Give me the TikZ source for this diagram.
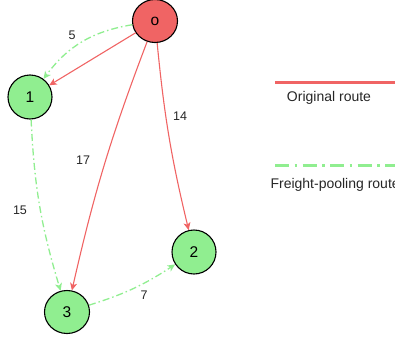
\documentclass[tikz,border=0pt]{standalone}
\usepackage{fontspec}
\setmainfont{Liberation Sans}
\usetikzlibrary{arrows.meta,shapes.geometric}
\definecolor{redroute}{HTML}{F06464}
\definecolor{greenroute}{HTML}{90EE90}
\begin{document}
\begin{tikzpicture}[x=1pt,y=1pt,
  vert/.style={circle,draw=black,line width=1.1pt,minimum size=44pt,inner sep=0pt,font=\fontsize{15.5}{15.5}\selectfont},
  orig/.style={draw=redroute,line width=1.1pt,-{Stealth[length=7.5pt,width=7pt,inset=2pt]}},
  pool/.style={draw=greenroute,line width=1.3pt,dash pattern=on 7pt off 3pt on 1.5pt off 3pt,-{Stealth[length=7.5pt,width=7pt,inset=2pt]}},
  elab/.style={font=\fontsize{12.5}{12.5}\selectfont,text=black!85},
  leg/.style={font=\fontsize{14}{14}\selectfont,text=black!85}]
\useasboundingbox (0,0) rectangle (395,341);
\node[vert,fill=redroute,minimum width=45pt,minimum height=43pt,ellipse] (o) at (155,320) {o};
\node[vert,fill=greenroute] (n1) at (30,244) {1};
\node[vert,fill=greenroute] (n2) at (194,89) {2};
\node[vert,fill=greenroute,minimum height=43pt,ellipse,minimum width=45pt] (n3) at (67,29) {3};
% original routes
\draw[orig] (o) -- (n1);
\draw[orig] (o) to[bend right=4] (n3);
\draw[orig] (o) to[bend right=4] (n2);
% freight pooling
\draw[pool] (o) to[bend right=22] (n1);
\draw[pool] (n1) to[bend right=7] (n3);
\draw[pool] (n3) to[bend right=8] (n2);
% labels
\node[elab] (l5) at (72,306) {5};
\node[elab] (l14) at (180,225) {14};
\node[elab] (l17) at (83,181) {17};
\node[elab] (l15) at (20,131) {15};
\node[elab] (l7) at (144,46) {7};
% legend
\coordinate (ra) at (275,259);
\coordinate (rb) at (395,259);
\draw[redroute,line width=3pt] (ra) -- (rb);
\node[leg] (lo) at (329,243) {Original route};
\coordinate (ga) at (275,176);
\coordinate (gb) at (395,176);
\draw[greenroute,line width=3pt,dash pattern=on 14pt off 5.5pt on 2.5pt off 5.5pt] (ga) -- (gb);
\node[leg,anchor=west] (lf) at (267,156) {Freight-pooling route};
\end{tikzpicture}
\end{document}
